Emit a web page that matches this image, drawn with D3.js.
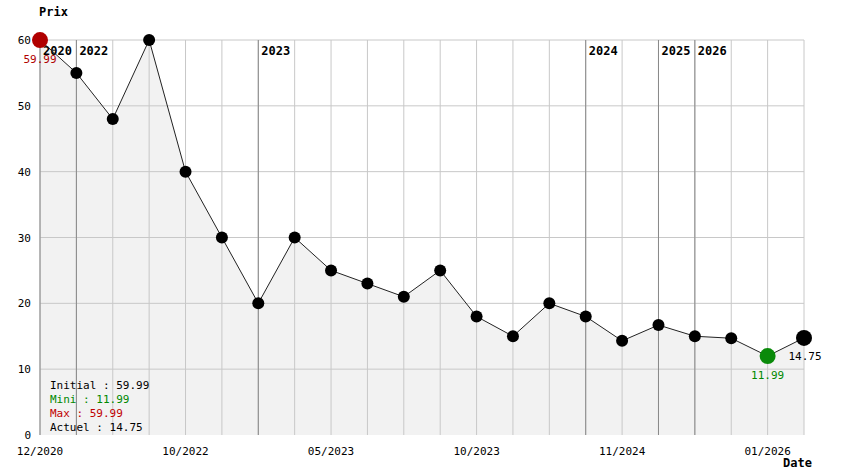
<!DOCTYPE html><html><head><meta charset="utf-8"><script src="https://cdn.jsdelivr.net/npm/d3@7"></script>
<style>body{margin:0;background:#fff}text{font-family:"DejaVu Sans Mono",monospace}</style></head><body><svg id="c" width="844" height="474"></svg><script>
const prices=[59.99,55,48,60,40,30,20,30,25,23,21,25,18,15,20,18,14.3,16.7,15,14.7,11.99,14.75];
const xLabels=[[0,"12/2020"],[4,"10/2022"],[8,"05/2023"],[12,"10/2023"],[16,"11/2024"],[20,"01/2026"]];
const years=[[0,"2020"],[1,"2022"],[6,"2023"],[15,"2024"],[17,"2025"],[18,"2026"]];
const yTicks=[0,10,20,30,40,50,60];
const svg=d3.select("#c");
const x=d3.scaleLinear().domain([0,prices.length-1]).range([40,804]);
const y=d3.scaleLinear().domain([0,60]).range([435,40]);
const idx=d3.range(prices.length);
svg.append("path").datum(idx).attr("fill","#f2f2f2").attr("d",d3.area().x(i=>x(i)).y0(y(0)).y1(i=>y(prices[i])));
svg.selectAll(".vg").data(idx).join("line").attr("x1",i=>x(i)).attr("x2",i=>x(i)).attr("y1",40).attr("y2",435).attr("stroke","#c8c8c8");
svg.selectAll(".hg").data(yTicks.slice(1)).join("line").attr("x1",40).attr("x2",804).attr("y1",d=>y(d)).attr("y2",d=>y(d)).attr("stroke","#c8c8c8");
svg.selectAll(".yl").data(years).join("line").attr("x1",d=>x(d[0])).attr("x2",d=>x(d[0])).attr("y1",40).attr("y2",435).attr("stroke","#888");
svg.selectAll(".yt").data(years).join("text").attr("x",d=>x(d[0])+3).attr("y",55).attr("font-size",12).attr("font-weight","bold").text(d=>d[1]);
svg.selectAll(".ytk").data(yTicks).join("text").attr("x",d=>d==0?28:30).attr("y",d=>y(d)+(d==0?4:4)).attr("text-anchor","end").attr("font-size",11).text(d=>d).attr("x",31);
svg.selectAll(".xl").data(xLabels).join("text").attr("x",d=>x(d[0])).attr("y",455).attr("text-anchor","middle").attr("font-size",11).text(d=>d[1]);
svg.append("text").attr("x",39).attr("y",16).attr("font-size",12).attr("font-weight","bold").text("Prix");
svg.append("text").attr("x",812).attr("y",467).attr("text-anchor","end").attr("font-size",12).attr("font-weight","bold").text("Date");
svg.append("path").datum(idx).attr("fill","none").attr("stroke","#222").attr("d",d3.line().x(i=>x(i)).y(i=>y(prices[i])));
svg.selectAll(".pt").data(idx.slice(1,-2)).join("circle").attr("cx",i=>x(i)).attr("cy",i=>y(prices[i])).attr("r",6).attr("fill","#000");
const n=prices.length;
svg.append("circle").attr("cx",x(0)).attr("cy",y(prices[0])).attr("r",8).attr("fill","#b00000");
svg.append("circle").attr("cx",x(n-2)).attr("cy",y(prices[n-2])).attr("r",8).attr("fill","#0a8a0a");
svg.append("circle").attr("cx",x(n-1)).attr("cy",y(prices[n-1])).attr("r",8).attr("fill","#000");
svg.append("text").attr("x",x(0)).attr("y",y(prices[0])+23).attr("text-anchor","middle").attr("font-size",11).attr("fill","#b00000").text("59.99");
svg.append("text").attr("x",x(n-2)).attr("y",y(prices[n-2])+23).attr("text-anchor","middle").attr("font-size",11).attr("fill","#008800").text("11.99");
svg.append("text").attr("x",x(n-1)+1).attr("y",y(prices[n-1])+22).attr("text-anchor","middle").attr("font-size",11).text("14.75");
const leg=[["Initial : 59.99","#000"],["Mini : 11.99","#008800"],["Max : 59.99","#c00000"],["Actuel : 14.75","#000"]];
svg.selectAll(".lg").data(leg).join("text").attr("x",50).attr("y",(d,i)=>389+i*14).attr("font-size",11).attr("fill",d=>d[1]).text(d=>d[0]);
</script></body></html>
